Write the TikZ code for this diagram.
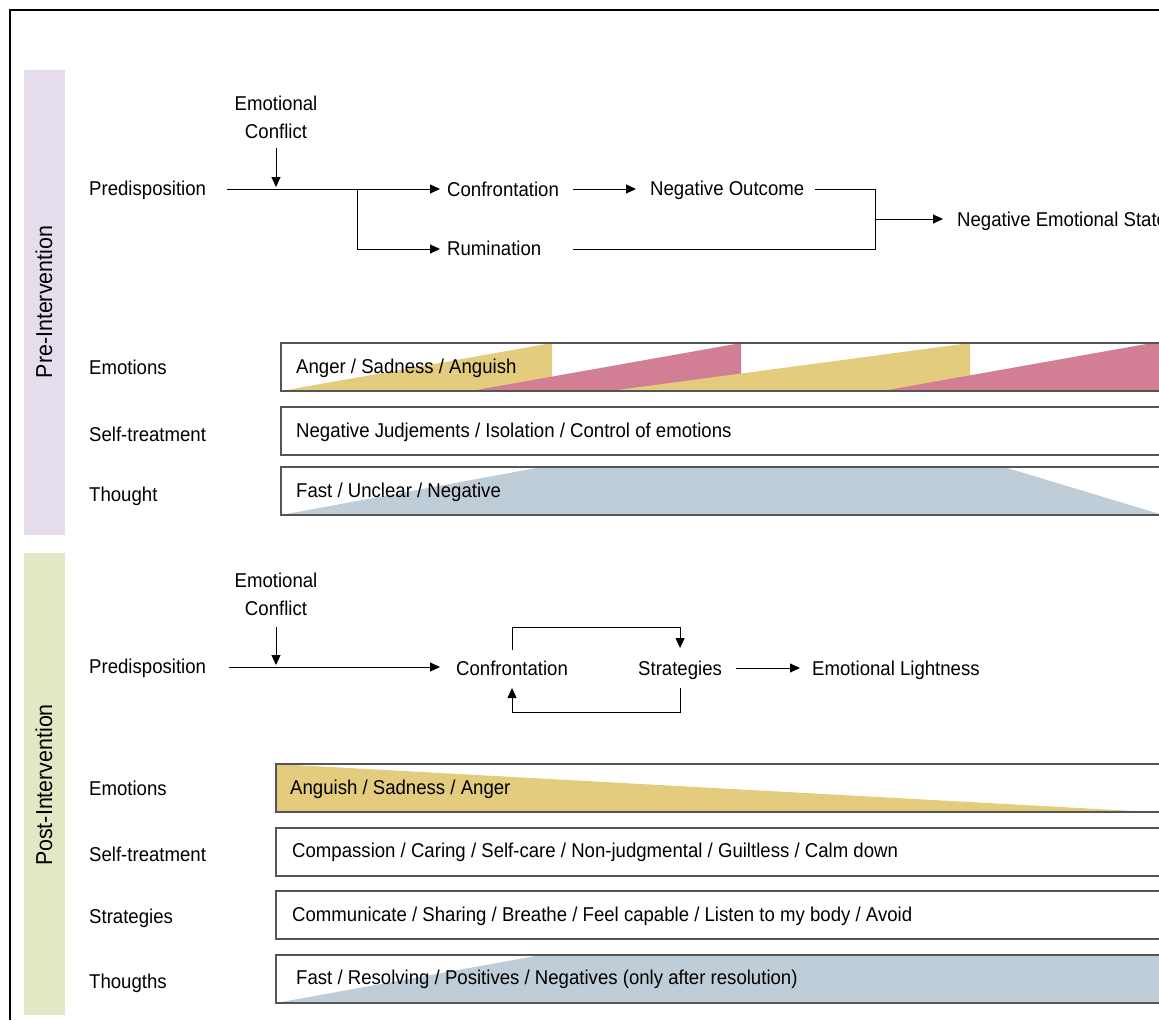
\documentclass[tikz,border=0pt]{standalone}
\usepackage{fontspec}
\setmainfont{Liberation Sans}[FakeStretch=0.93]
\usetikzlibrary{arrows.meta,calc}
\definecolor{ylw}{HTML}{E3CC7E}
\definecolor{pnk}{HTML}{D27F96}
\definecolor{blu}{HTML}{BFCDD8}
\definecolor{lav}{HTML}{E6DDEC}
\definecolor{grn}{HTML}{E3E8C4}
\definecolor{barc}{HTML}{555555}
\begin{document}
\begin{tikzpicture}[x=1pt,y=-1pt,font=\fontsize{20}{28}\selectfont,
  lbl/.style={anchor=mid west,inner sep=0pt},
  ctext/.style={align=center,inner sep=0pt},
  arr/.style={-{Triangle[length=10pt,width=9pt]},line width=1pt},
  ln/.style={line width=1pt},
  bar/.style={draw=barc,line width=1.4pt},
  side/.style={rotate=90,inner sep=0pt,font=\fontsize{23}{26}\selectfont}]
\useasboundingbox (0,0) rectangle (1159,1020);
% bands and frame
\fill[lav] (24,70) rectangle (65,535);
\fill[grn] (24,553) rectangle (65,1015);
\draw[line width=2pt] (10,1020) -- (10,10) -- (1165,10);
\node[side] (pre) at (44,302) {Pre-Intervention};
\node[side] (post) at (44,785) {Post-Intervention};

% ---------- Pre-intervention flow (lines 4pt above the text's mid anchor)
\node[lbl] (pd1) at (89,193) {Predisposition};
\node[ctext] (ec1) at (276,117) {Emotional\\Conflict};
\node[lbl] (cf1) at (447,194) {Confrontation};
\node[lbl] (ru1) at (447,253) {Rumination};
\node[lbl] (no1) at (650,193) {Negative Outcome};
\node[lbl] (nes1) at (957,224) {Negative Emotional State};
\coordinate (br1) at (357,189);
\coordinate (jn1) at (875,219);
\coordinate (cfo) at (573,189);
\coordinate (ruo) at (573,249);
\coordinate (ecm1) at (276,187);
\draw[arr] ($(pd1.mid west)+(138,-4)$) -- ($(cf1.mid west)+(-7,-5)$);
\draw[arr] ($(ec1.south)+(0,9)$) -- (ecm1);
\draw[arr] (br1) |- ($(ru1.mid west)+(-7,-4)$);
\draw[arr] (cfo) -- ($(no1.mid west)+(-14,-4)$);
\draw[ln] ($(no1.mid east)+(11,-4)$) -| (jn1) |- (ruo);
\draw[arr] (jn1) -- ($(nes1.mid west)+(-14,-5)$);

% ---------- Pre-intervention bars
\node[lbl] (e1l) at (89,372) {Emotions};
\node[lbl] (s1l) at (89,439) {Self-treatment};
\node[lbl] (t1l) at (89,499) {Thought};
\fill[ylw] (281,391) -- (552,343) -- (552,391) -- cycle;
\fill[pnk] (471,391) -- (741,343) -- (741,391) -- cycle;
\fill[ylw] (610,391) -- (970,343) -- (970,391) -- cycle;
\fill[pnk] (882,391) -- (1152,343) -- (1170,343) -- (1170,391) -- cycle;
\fill[blu] (281,515) -- (542,467) -- (1004,467) -- (1163,515) -- cycle;
\draw[bar] (1170,343) -- (281,343) -- (281,391) -- (1170,391);
\draw[bar] (1170,407) -- (281,407) -- (281,455) -- (1170,455);
\draw[bar] (1170,467) -- (281,467) -- (281,515) -- (1170,515);
\node[lbl] (e1t) at (296,371) {Anger / Sadness / Anguish};
\node[lbl] (s1t) at (296,435) {Negative Judjements / Isolation / Control of emotions};
\node[lbl] (t1t) at (296,495) {Fast / Unclear / Negative};

% ---------- Post-intervention flow
\node[lbl] (pd2) at (89,671) {Predisposition};
\node[ctext] (ec2) at (276,594) {Emotional\\Conflict};
\node[lbl] (cf2) at (456,673) {Confrontation};
\node[lbl] (st2) at (638,673) {Strategies};
\node[lbl] (el2) at (812,673) {Emotional Lightness};
\coordinate (ecm2) at (276,665);
\draw[arr] ($(pd2.mid west)+(140,-4)$) -- ($(cf2.mid west)+(-16,-6)$);
\draw[arr] ($(ec2.south)+(0,11)$) -- (ecm2);
\draw[arr] ($(cf2.mid)+(0,-23)$) -- ++(0,-23) -| ($(st2.mid)+(0,-25)$);
\draw[arr] ($(st2.mid)+(0,15)$) -- ++(0,24) -| ($(cf2.mid)+(0,15)$);
\draw[arr] ($(st2.mid east)+(14,-5)$) -- ($(el2.mid west)+(-12,-5)$);

% ---------- Post-intervention bars
\node[lbl] (e2l) at (89,793) {Emotions};
\node[lbl] (s2l) at (89,859) {Self-treatment};
\node[lbl] (g2l) at (89,921) {Strategies};
\node[lbl] (t2l) at (89,986) {Thougths};
\fill[ylw] (276,764) -- (1152,812) -- (276,812) -- cycle;
\fill[blu] (276,1003) -- (541,955) -- (1170,955) -- (1170,1003) -- cycle;
\draw[bar] (1170,764) -- (276,764) -- (276,812) -- (1170,812);
\draw[bar] (1170,828) -- (276,828) -- (276,876) -- (1170,876);
\draw[bar] (1170,891) -- (276,891) -- (276,939) -- (1170,939);
\draw[bar] (1170,955) -- (276,955) -- (276,1003) -- (1170,1003);
\node[lbl] (e2t) at (290,792) {Anguish / Sadness / Anger};
\node[lbl] (s2t) at (292,855) {Compassion / Caring / Self-care / Non-judgmental / Guiltless / Calm down};
\node[lbl] (g2t) at (292,919) {Communicate / Sharing / Breathe / Feel capable / Listen to my body / Avoid};
\node[lbl] (t2t) at (296,982) {Fast / Resolving / Positives / Negatives (only after resolution)};
\end{tikzpicture}
\end{document}
